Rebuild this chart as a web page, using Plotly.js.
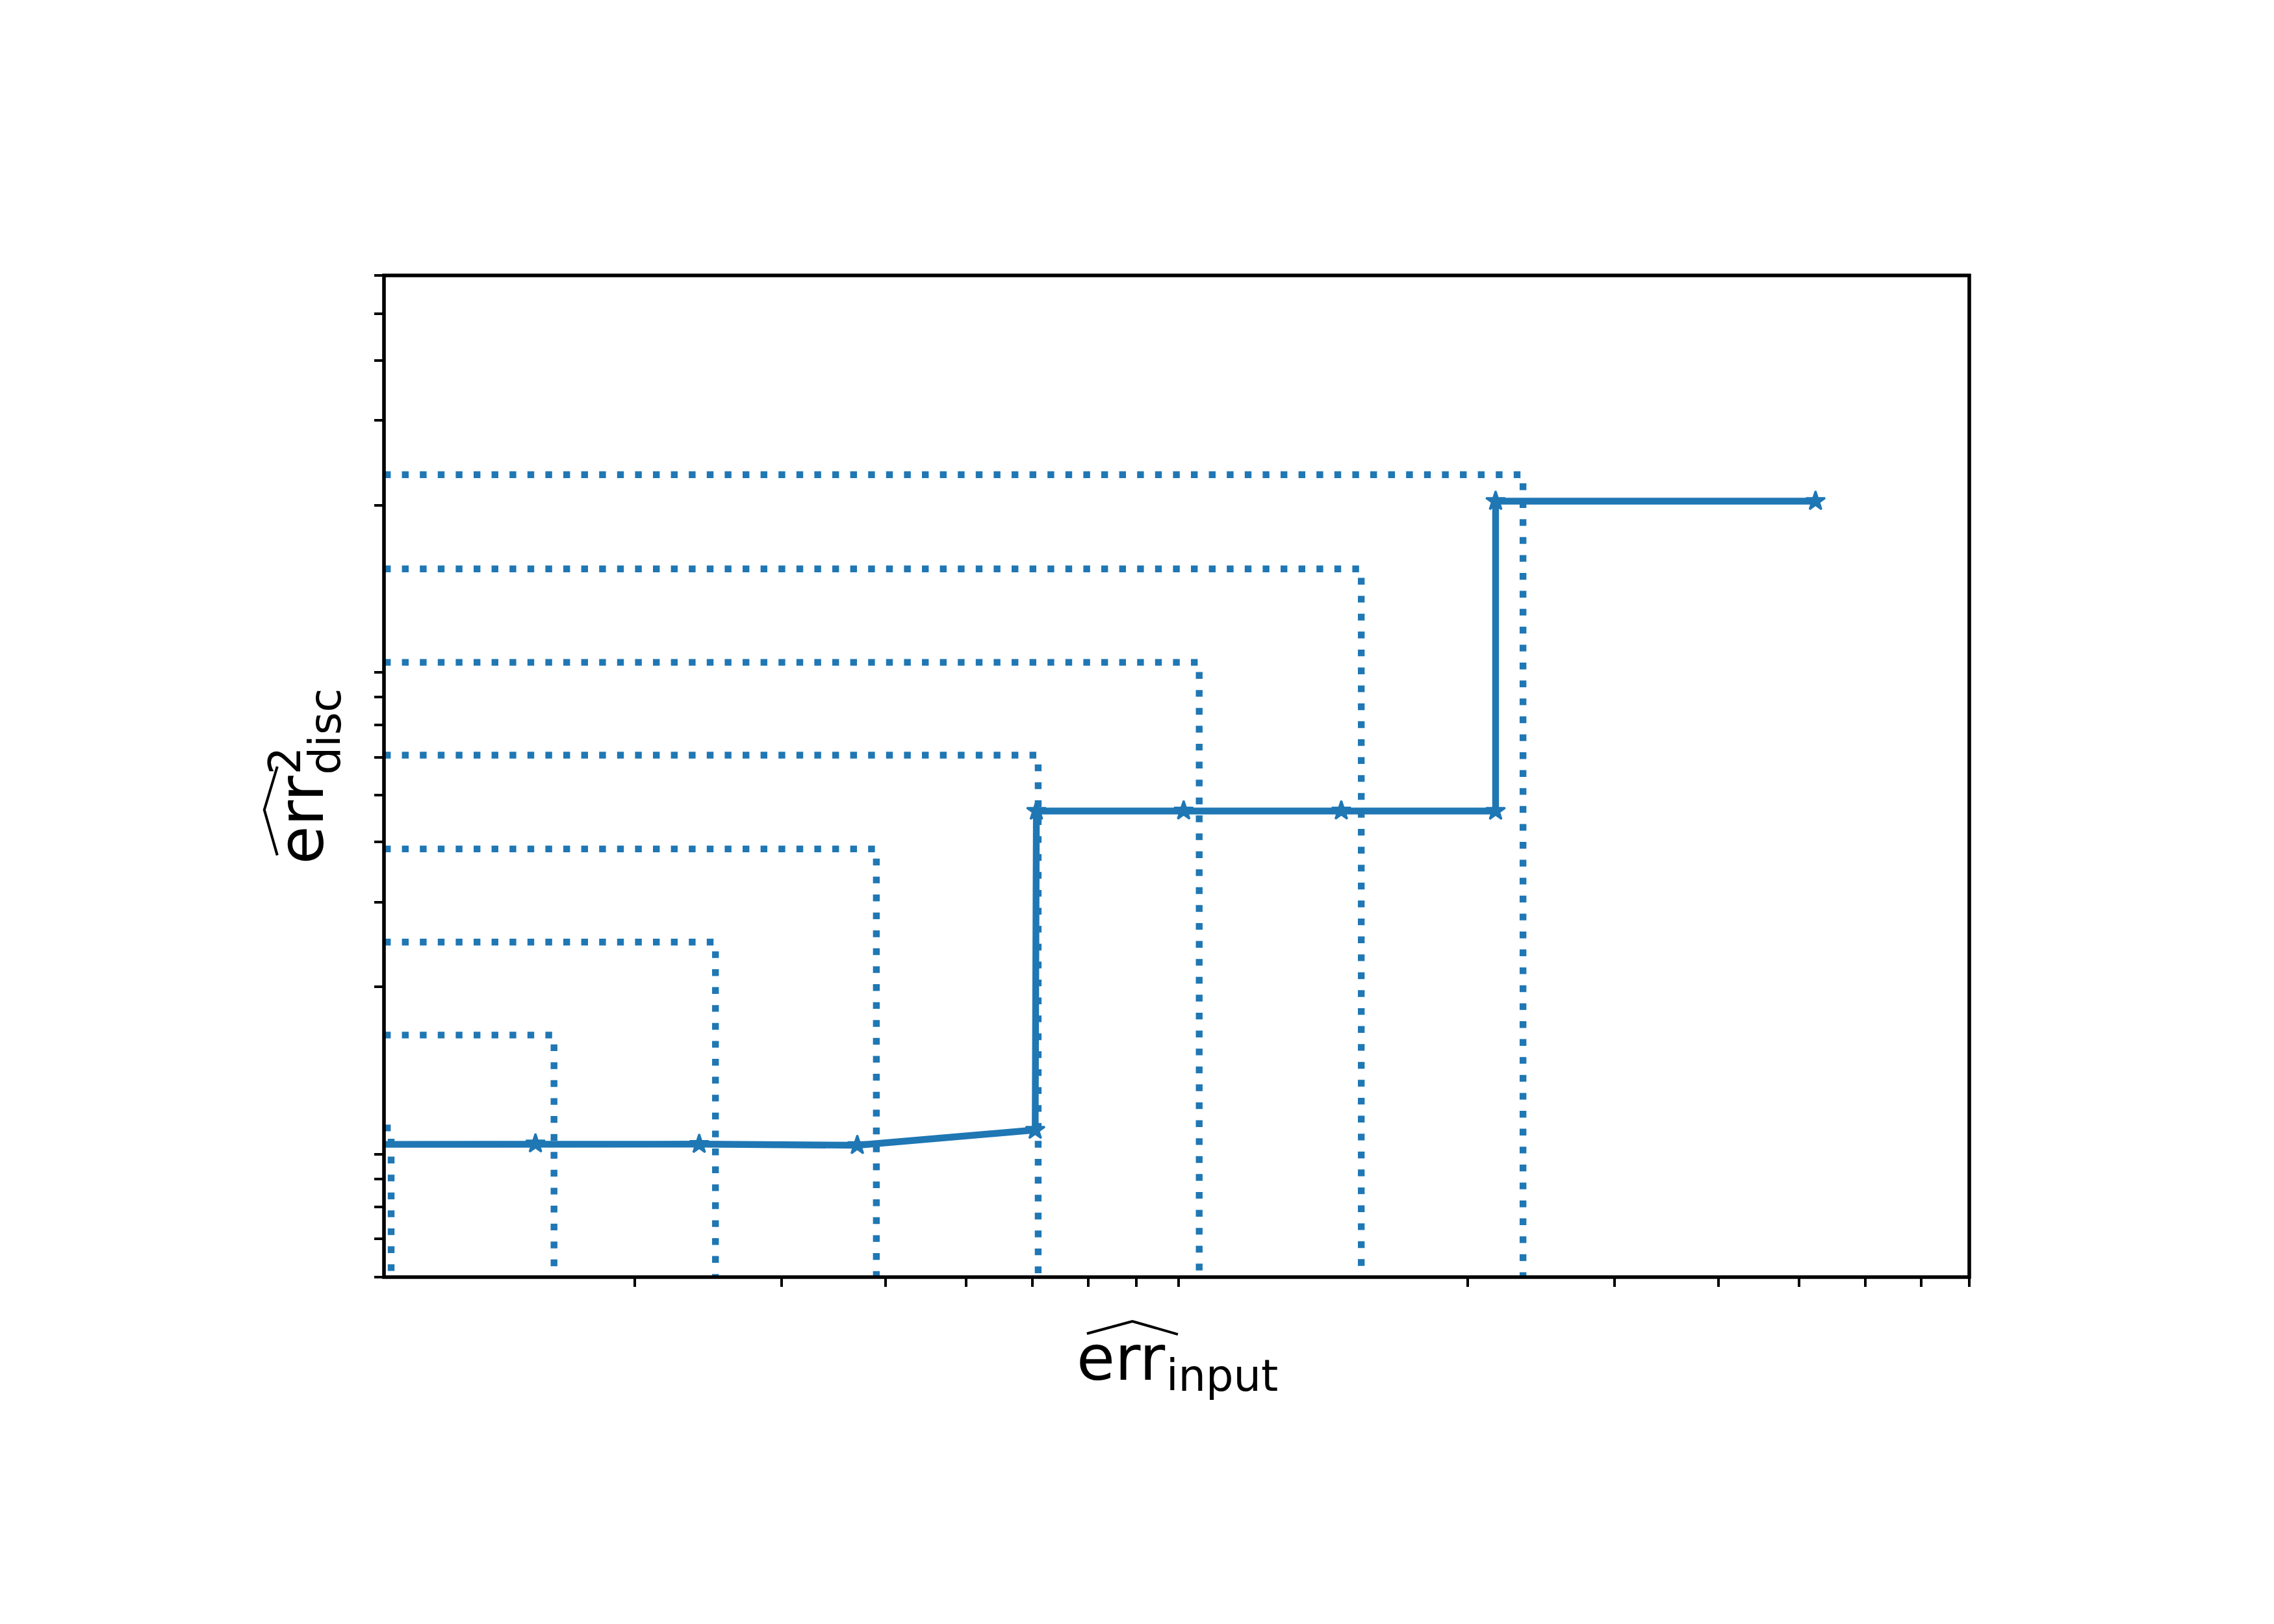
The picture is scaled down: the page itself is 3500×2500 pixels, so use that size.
<!DOCTYPE html>
<html>
<head>
<meta charset="utf-8">
<script src="https://cdn.plot.ly/plotly-3.0.1.min.js"></script>
<style>html,body{margin:0;padding:0;background:#fff;}</style>
</head>
<body>
<div id="chart" style="width:3500px;height:2500px;"></div>
<script>
// ---- data (log-log axes, no tick labels) ----
const xLimits = [1, 80];
const yLimits = [5, 600];

// minor tick positions (major ticks hidden in the reference)
const xTickVals = [2, 3, 4, 5, 6, 7, 8, 9, 20, 30, 40, 50, 60, 70, 80];
const yTickVals = [5, 6, 7, 8, 9, 20, 30, 40, 50, 60, 70, 80, 90, 200, 300, 400, 500, 600];

// dotted threshold elbows
const thresholdX = [1.02, 1.60, 2.50, 3.90, 6.10, 9.52, 14.9, 23.3];
const thresholdY = [10.2, 15.9, 24.8, 38.7, 60.6, 94.4, 147.6, 231.5];

// solid curve with star markers
const errInput = [0.97, 1.52, 2.39, 3.70, 6.05, 6.07, 9.12, 14.1, 21.6, 21.6, 52.3];
const errDisc  = [9.43, 9.46, 9.44, 9.39, 10.1, 46.4, 46.45, 46.45, 46.4, 204, 204];

const BLUE = '#1f77b4';
const FONT = 'DejaVu Sans';

const traces = [];
for (let i = 0; i < thresholdX.length; i++) {
  traces.push({
    type: 'scatter', mode: 'lines',
    x: [xLimits[0], thresholdX[i], thresholdX[i]],
    y: [thresholdY[i], thresholdY[i], yLimits[0]],
    line: {color: BLUE, width: 10.4, dash: '10.4px,17.2px'},
    hoverinfo: 'skip'
  });
}
traces.push({
  type: 'scatter', mode: 'lines+markers',
  x: errInput, y: errDisc,
  line: {color: BLUE, width: 10.4},
  marker: {symbol: 'star', size: 22, color: BLUE, line: {color: BLUE, width: 3}}
});

const eps = 1e-6;
const axisCommon = {
  type: 'log',
  showgrid: false, zeroline: false,
  showline: false,
  ticks: 'outside', ticklen: 14, tickwidth: 4, tickcolor: '#000',
  tickmode: 'array', showticklabels: false
};

const layout = {
  width: 3500, height: 2500,
  margin: {l: 591, r: 469, t: 424, b: 534, pad: 0},
  paper_bgcolor: '#fff', plot_bgcolor: '#fff',
  showlegend: false,
  font: {family: FONT, color: '#000'},
  xaxis: Object.assign({}, axisCommon, {
    range: [Math.log10(xLimits[0]) - eps, Math.log10(xLimits[1]) + eps],
    tickvals: xTickVals
  }),
  yaxis: Object.assign({}, axisCommon, {
    range: [Math.log10(yLimits[0]) - eps, Math.log10(yLimits[1]) + eps],
    tickvals: yTickVals
  }),
  annotations: [
    // x label: err_input with wide hat
    {text: 'err', xref: 'paper', yref: 'paper', x: 0, y: 0, xanchor: 'left', yanchor: 'top',
     xshift: 1065, yshift: -68, showarrow: false, borderpad: 0, font: {family: FONT, size: 96, color: '#000'}},
    {text: 'input', xref: 'paper', yref: 'paper', x: 0, y: 0, xanchor: 'left', yanchor: 'top',
     xshift: 1203, yshift: -112, showarrow: false, borderpad: 0, font: {family: FONT, size: 67, color: '#000'}},
    // y label: err^2_disc with wide hat
    {text: 'err', xref: 'paper', yref: 'paper', x: 0, y: 0, xanchor: 'left', yanchor: 'bottom', textangle: -90,
     xshift: -185, yshift: 634, showarrow: false, borderpad: 0, font: {family: FONT, size: 96, color: '#000'}},
    {text: '2', xref: 'paper', yref: 'paper', x: 0, y: 0, xanchor: 'left', yanchor: 'bottom', textangle: -90,
     xshift: -193, yshift: 772, showarrow: false, borderpad: 0, font: {family: FONT, size: 67, color: '#000'}},
    {text: 'disc', xref: 'paper', yref: 'paper', x: 0, y: 0, xanchor: 'left', yanchor: 'bottom', textangle: -90,
     xshift: -131, yshift: 772, showarrow: false, borderpad: 0, font: {family: FONT, size: 67, color: '#000'}}
  ],
  shapes: [
    // axes frame (spines centred on the plot-area edges)
    {type: 'rect', xref: 'paper', yref: 'paper', x0: 0, x1: 1, y0: 0, y1: 1,
     line: {color: '#000', width: 5.6}, fillcolor: 'rgba(0,0,0,0)', layer: 'above'},
    {type: 'path', xref: 'paper', yref: 'paper',
     path: 'M 0.4434 -0.0564 L 0.4721 -0.0441 L 0.5008 -0.0571',
     line: {color: '#000', width: 4}},
    {type: 'path', xref: 'paper', yref: 'paper',
     path: 'M -0.0673 0.5097 L -0.0755 0.4665 L -0.0673 0.4211',
     line: {color: '#000', width: 4}}
  ]
};

Plotly.newPlot('chart', traces, layout, {staticPlot: true, displayModeBar: false});
</script>
</body>
</html>
